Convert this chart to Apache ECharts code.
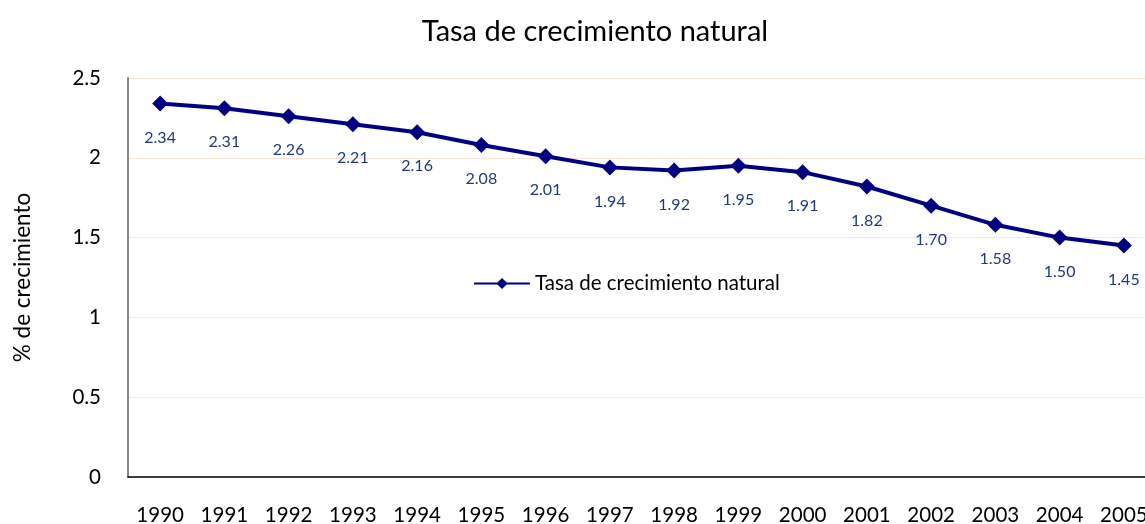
<!DOCTYPE html>
<html>
<head>
<meta charset="utf-8">
<script src="https://cdn.jsdelivr.net/npm/echarts@6/dist/echarts.min.js"></script>
<style>
  html, body { margin: 0; padding: 0; background: #fff; }
  #chart { width: 1145px; height: 524px; }
</style>
</head>
<body>
<div id="chart"></div>
<script>
const years = ['1990', '1991', '1992', '1993', '1994', '1995', '1996', '1997',
  '1998', '1999', '2000', '2001', '2002', '2003', '2004', '2005']
const rates = [2.34, 2.31, 2.26, 2.21, 2.16, 2.08, 2.01, 1.94,
  1.92, 1.95, 1.91, 1.82, 1.70, 1.58, 1.50, 1.45]
const seriesName = 'Tasa de crecimiento natural'

const font = 'Lato, "Open Sans", sans-serif'
const chart = echarts.init(document.getElementById('chart'))
chart.setOption({
  textStyle: { fontFamily: font },
  title: {
    text: 'Tasa de crecimiento natural',
    left: 590,
    textAlign: 'center',
    top: 12,
    textStyle: { fontFamily: font, fontSize: 29, fontWeight: 'normal', color: '#000' }
  },
  legend: {
    data: [seriesName],
    left: 468,
    top: 268,
    itemWidth: 56,
    itemHeight: 14,
    itemGap: 4,
    textStyle: { fontFamily: font, fontSize: 20.5, color: '#000' }
  },
  grid: { left: 128, right: -11, top: 78, bottom: 47, containLabel: false, outerBoundsMode: 'none' },
  xAxis: {
    type: 'category',
    data: years,
    boundaryGap: true,
    axisTick: { show: false },
    axisLine: { lineStyle: { color: '#000', width: 1.5 } },
    axisLabel: { color: '#000', fontSize: 20.5, margin: 28, fontFamily: font }
  },
  yAxis: {
    type: 'value',
    min: 0,
    max: 2.5,
    interval: 0.5,
    name: '% de crecimiento',
    nameLocation: 'middle',
    nameGap: 94,
    nameTextStyle: { fontSize: 22.5, color: '#000', fontFamily: font },
    axisLine: { show: true, lineStyle: { color: '#888', width: 2 } },
    axisTick: { show: false },
    axisLabel: { color: '#000', fontSize: 20.5, margin: 27, fontFamily: font },
    splitLine: { lineStyle: { color: '#f8e6d8', width: 1 } }
  },
  series: [{
    name: seriesName,
    type: 'line',
    data: rates,
    symbol: 'diamond',
    symbolSize: 16,
    lineStyle: { color: '#000080', width: 4 },
    itemStyle: { color: '#000080' },
    label: {
      show: true,
      position: 'bottom',
      distance: 18,
      color: '#1f3a78',
      fontSize: 16,
      fontFamily: font,
      formatter: p => p.value.toFixed(2)
    }
  }]
})
</script>
</body>
</html>
